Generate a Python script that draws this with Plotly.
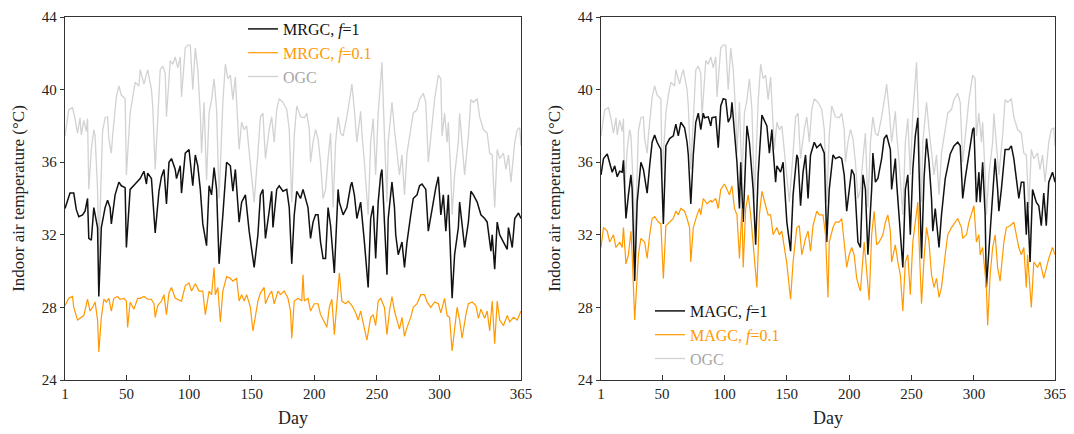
import plotly.graph_objects as go

# ---------------- data ----------------
mrgc1_days = [1,5,8,9,10,12,15,17,19,20,22,24,25,27,28,30,33,35,37,38,41,44,46,49,50,53,57,61,64,66,67,70,73,76,78,80,82,84,86,89,90,93,94,97,100,103,105,107,109,111,114,116,118,120,122,124,127,130,133,135,137,138,140,142,145,148,150,152,155,157,159,161,164,166,167,170,172,175,178,180,182,184,186,189,191,193,195,197,199,201,203,205,207,209,211,213,216,219,220,223,226,229,230,232,234,237,238,240,243,245,247,249,251,253,254,256,258,259,262,264,265,267,270,272,274,277,279,282,284,286,289,291,294,297,299,301,303,305,307,309,310,312,315,316,318,320,323,325,327,330,333,336,338,341,342,344,346,348,351,354,355,358,360,363,365]
mrgc1_temp = [33.45,34.3,34.3,33.7,33.4,33.0,33.1,33.3,34.0,31.8,31.7,33.5,33.1,32.4,28.6,32.4,33.5,33.9,33.5,32.6,34.2,34.9,34.7,34.6,31.3,34.5,34.8,35.1,35.5,34.8,35.4,35.1,32.1,34.4,35.2,35.6,33.7,36.0,36.2,35.6,35.1,35.8,34.3,36.5,36.7,34.7,36.4,35.8,34.5,32.6,31.4,34.7,34.2,35.7,34.5,30.4,33.1,36.0,35.8,34.4,35.6,34.5,32.7,33.8,34.2,32.2,31.3,30.2,32.0,34.2,34.5,31.8,33.3,34.4,32.4,34.5,34.7,34.4,34.5,33.5,30.4,33.1,34.4,34.0,34.5,34.0,33.5,31.8,32.7,33.1,33.1,31.6,30.7,30.7,33.5,32.5,29.9,34.5,33.8,33.1,33.5,34.7,34.9,34.2,32.9,33.8,32.9,31.6,29.1,32.9,33.6,30.7,33.8,35.3,35.6,32.9,29.8,32.9,34.9,33.5,32.0,30.9,31.6,30.2,31.6,33.1,34.0,34.2,34.7,34.8,34.5,32.2,33.5,34.6,35.2,33.1,34.2,32.2,34.2,30.9,28.5,30.9,32.4,33.8,32.7,31.3,32.7,34.4,34.2,33.8,33.1,32.9,32.7,31.1,32.0,30.1,32.7,32.0,31.6,31.2,32.4,31.3,32.9,33.2,32.9]

mrgc01_days = [1,4,7,8,11,13,16,19,21,23,25,27,28,30,32,34,36,38,40,43,45,48,50,51,53,56,59,61,64,67,70,72,73,75,78,80,82,84,86,89,91,94,97,100,102,105,108,111,113,116,118,120,121,123,125,127,130,133,135,138,140,142,144,146,149,151,152,155,157,160,161,164,166,168,171,173,176,179,181,182,184,187,190,191,192,195,197,200,203,205,208,210,212,214,216,218,220,222,225,227,230,233,235,237,239,242,245,247,249,251,253,256,258,260,262,264,266,268,270,272,274,277,279,282,285,288,290,293,296,299,301,304,306,308,310,312,314,316,318,321,323,326,329,331,333,336,338,340,342,344,346,348,351,354,356,359,362,365]
mrgc01_temp = [28.1,28.5,28.6,28.0,27.3,27.4,27.55,28.45,27.8,28.0,28.3,27.3,25.55,27.45,28.45,28.3,28.5,27.8,28.5,28.6,28.45,28.5,28.35,26.9,28.3,27.9,28.5,28.5,28.6,28.45,28.45,28.2,27.45,28.1,28.35,28.7,27.6,28.8,29.1,28.5,28.45,28.35,29.2,29.35,28.9,29.3,28.9,28.9,27.6,28.9,28.7,30.2,28.7,29.1,27.2,28.9,29.7,29.6,29.45,29.6,28.35,28.7,28.35,28.7,28.0,26.7,27.1,28.35,28.8,29.1,28.2,28.7,28.9,28.2,28.9,28.7,28.9,28.5,27.8,26.3,28.35,28.5,28.35,29.8,28.35,28.5,27.8,28.2,28.2,27.6,27.2,26.9,28.0,28.45,26.5,28.35,29.9,28.35,28.2,28.35,28.1,27.7,27.3,27.8,27.1,26.2,27.45,27.6,27.0,28.35,28.5,28.0,26.5,27.8,28.6,27.8,27.3,26.8,27.45,26.4,26.9,27.45,28.0,28.2,28.7,28.7,28.3,28.0,28.3,28.2,27.7,28.5,27.55,27.45,25.6,26.7,28.0,27.3,26.3,27.6,28.2,28.3,28.1,27.4,27.9,27.4,27.8,26.7,28.35,26.0,28.35,27.3,27.0,27.55,27.2,27.45,27.3,27.8]

ogc_days = [1,4,7,9,11,13,14,16,18,19,20,22,24,25,27,28,30,31,33,35,36,38,39,42,44,46,49,50,53,55,57,60,61,64,66,67,70,71,73,75,77,79,81,82,85,87,89,91,93,94,97,99,101,103,105,107,109,110,112,114,116,118,120,122,123,124,127,129,131,133,135,137,138,140,142,144,146,148,150,152,155,157,159,161,164,166,168,170,172,175,178,180,182,184,186,189,192,194,196,197,199,201,203,205,207,209,211,213,215,217,219,221,223,226,229,230,232,234,237,238,240,243,245,247,249,251,253,254,256,258,259,262,264,266,268,270,272,274,277,279,282,284,287,289,291,294,296,299,301,302,304,306,307,309,310,312,315,316,318,320,323,325,327,330,332,335,338,340,342,344,346,348,351,353,355,357,360,362,364,365]
ogc_temp = [37.45,38.9,39.0,38.4,37.6,38.45,37.5,38.3,37.7,38.4,34.5,36.7,37.8,37.45,34.5,31.0,35.5,37.7,38.45,38.5,37.3,36.5,37.45,39.6,40.2,39.7,39.5,35.3,38.7,39.7,40.4,40.2,41.1,40.3,40.9,41.1,40.0,39.1,35.6,38.7,41.1,41.3,40.9,38.5,41.6,41.4,41.8,41.2,41.8,39.6,42.3,42.45,42.45,40.0,42.3,41.1,38.7,36.5,39.3,35.0,38.7,39.45,40.6,38.9,36.5,34.0,39.3,41.4,40.6,40.8,39.45,40.7,39.3,36.7,38.2,37.8,38.0,36.7,35.3,33.8,36.5,38.5,38.7,36.2,37.8,38.5,37.1,38.9,39.5,39.3,38.9,37.8,33.8,37.45,39.1,38.5,38.45,38.7,37.8,36.0,37.1,37.8,37.3,36.0,34.0,34.5,36.2,37.6,33.5,37.1,38.5,37.6,37.45,38.5,39.8,40.3,38.9,37.1,38.8,37.6,36.0,33.1,37.1,38.4,35.3,38.7,40.5,41.5,37.45,33.8,37.1,39.3,37.8,36.5,35.3,36.4,34.2,36.5,37.8,38.7,38.9,39.45,39.8,39.3,36.0,38.0,39.45,40.8,40.6,37.45,38.7,37.1,38.2,35.3,33.1,35.3,37.1,38.7,37.1,35.3,37.45,39.45,39.3,39.5,38.5,37.8,37.6,36.5,36.4,33.5,36.7,36.2,36.5,35.6,36.4,34.9,37.1,37.8,37.9,36.9]

magc1_days = [1,3,6,8,10,12,14,16,18,19,21,23,25,26,28,30,33,35,38,40,42,44,46,49,51,53,56,59,61,63,65,68,70,71,73,75,77,79,81,83,84,87,89,90,93,95,97,99,101,103,105,106,108,110,112,113,115,117,118,120,123,125,127,130,132,134,136,138,139,141,142,145,147,149,150,153,155,158,159,161,163,165,167,169,172,174,177,180,182,184,187,189,192,194,196,198,200,202,204,205,207,209,211,213,215,218,219,221,223,226,228,230,233,234,237,238,240,243,245,247,249,251,253,255,256,258,260,262,264,266,267,269,272,274,277,279,281,284,287,289,291,293,296,299,300,302,304,305,307,309,310,313,315,317,319,320,322,325,328,330,332,334,336,338,340,342,343,345,347,350,352,354,356,358,360,363,365]
magc1_temp = [35.3,36.2,36.45,36.0,35.45,35.8,35.2,35.5,35.45,36.1,32.9,34.2,35.3,34.5,29.45,33.8,36.0,35.6,34.3,35.8,37.1,37.5,37.1,36.7,32.6,36.9,37.3,37.45,38.1,37.45,38.2,37.9,37.1,36.4,33.7,36.4,38.2,38.7,37.8,38.7,38.45,38.5,38.0,38.45,38.5,36.8,39.1,39.5,39.45,38.2,38.5,39.3,37.6,36.0,33.45,36.0,32.7,36.9,38.0,37.1,34.5,31.45,35.3,38.6,38.3,38.0,36.5,37.8,36.7,34.9,35.8,35.45,36.0,33.8,32.7,31.1,34.2,36.4,36.2,33.6,35.45,36.4,34.0,36.4,37.1,36.8,37.0,36.5,31.6,34.5,36.4,36.2,36.3,36.2,35.3,33.3,34.5,35.6,35.3,33.8,31.6,31.3,35.3,34.5,30.9,34.5,36.5,34.9,35.1,36.2,37.3,37.5,36.7,34.5,36.2,34.9,33.1,30.2,34.5,35.3,32.0,35.6,37.45,38.45,35.6,30.7,35.1,37.3,36.0,34.0,32.2,33.45,31.3,33.1,35.1,35.8,36.45,36.9,37.1,36.9,34.0,35.1,36.5,37.8,37.9,33.8,35.45,33.8,36.0,33.1,29.1,32.4,34.5,36.2,34.5,33.3,34.5,36.7,36.7,36.9,36.2,35.1,34.0,34.9,34.9,32.0,33.8,30.5,34.5,33.8,33.6,32.5,34.3,32.5,34.9,35.45,34.9]

magc01_days = [1,3,6,8,11,13,16,18,19,21,23,25,26,28,31,33,36,38,40,42,44,47,49,51,53,56,59,61,63,65,68,70,72,73,75,78,80,81,83,86,89,90,93,95,97,100,102,104,106,108,110,112,114,115,117,119,121,123,126,128,130,133,135,137,139,142,144,146,148,150,153,155,158,160,162,165,167,169,171,174,176,179,181,183,184,187,189,192,194,196,198,200,202,204,206,208,209,212,213,216,218,220,222,224,227,229,231,233,234,237,239,241,243,245,247,249,251,253,255,256,258,260,262,264,266,268,270,272,274,277,279,282,285,287,290,291,294,296,300,302,304,305,307,310,311,313,315,317,319,321,324,326,329,332,334,336,338,340,342,343,346,348,351,353,356,358,360,363,365]
magc01_temp = [31.3,32.4,32.2,31.6,32.0,31.3,31.6,31.3,32.4,30.4,30.9,32.2,30.9,27.3,30.9,31.8,31.6,30.7,32.0,32.9,33.0,32.7,32.6,29.6,32.5,32.7,32.9,33.3,33.1,33.45,33.3,32.9,32.4,30.5,32.4,33.1,33.45,33.1,34.0,33.7,33.9,33.8,34.0,33.45,34.5,34.8,34.5,34.2,34.7,33.45,33.1,30.7,33.45,30.2,33.45,34.2,33.1,31.6,29.1,33.1,34.4,33.6,33.1,33.1,32.0,32.4,32.0,32.2,31.3,30.4,28.45,30.5,32.4,32.5,30.9,31.8,32.2,31.1,32.5,33.3,33.1,33.1,32.0,28.55,31.6,32.4,32.7,32.7,32.9,31.6,30.2,30.9,31.3,30.9,29.6,29.1,28.9,31.6,30.9,28.4,32.0,33.3,31.45,31.6,32.0,32.7,33.1,32.2,30.5,31.45,30.5,29.8,27.8,30.5,30.9,28.7,31.6,32.7,33.8,31.6,28.2,30.7,32.4,31.6,29.8,29.1,29.6,28.55,29.1,30.9,32.0,32.4,32.7,32.9,32.4,31.8,32.0,32.7,33.6,31.6,32.0,30.9,31.3,29.1,27.0,29.8,31.3,32.0,30.2,29.45,31.6,32.4,32.5,32.7,32.0,31.3,30.9,31.3,29.1,30.9,28.0,30.5,30.2,30.5,29.6,30.2,30.7,31.3,30.9]

x_tickvals = [1, 50, 100, 150, 200, 250, 300, 365]
y_tickvals = [24, 28, 32, 36, 40, 44]

# ---------------- styling ----------------
FONT = "Liberation Serif, Times New Roman, serif"
BLACK = "#111111"
ORANGE = "#FF9900"
GRAY_LINE = "#D2D2D2"
GRAY_TEXT = "#A6A6A6"

# the page body adds an 8 px margin, so the figure is sized and laid out
# in "screen pixels minus 8"
OFF = 8
W, H = 1074 - OFF, 434 - OFF

def px(x):
    return (x - OFF) / W

def py(y):
    return 1 - (y - OFF) / H

fig = go.Figure()

def add(days, temp, name, color, width, xa, ya, legend, rank):
    fig.add_trace(go.Scatter(x=days, y=temp, mode="lines", name=name,
                             line=dict(color=color, width=width),
                             xaxis=xa, yaxis=ya, legend=legend, legendrank=rank))

# left panel (OGC drawn underneath)
add(ogc_days, ogc_temp, f"<span style='color:{GRAY_TEXT}'>OGC</span>", GRAY_LINE, 1.3, "x", "y", "legend", 3)
add(mrgc1_days, mrgc1_temp, "MRGC, <i>f</i>=1", BLACK, 1.5, "x", "y", "legend", 1)
add(mrgc01_days, mrgc01_temp, f"<span style='color:{ORANGE}'>MRGC, <i>f</i>=0.1</span>", ORANGE, 1.2, "x", "y", "legend", 2)
# right panel
add(ogc_days, ogc_temp, f"<span style='color:{GRAY_TEXT}'>OGC</span>", GRAY_LINE, 1.3, "x2", "y2", "legend2", 3)
add(magc1_days, magc1_temp, "MAGC, <i>f</i>=1", BLACK, 1.5, "x2", "y2", "legend2", 1)
add(magc01_days, magc01_temp, f"<span style='color:{ORANGE}'>MAGC, <i>f</i>=0.1</span>", ORANGE, 1.2, "x2", "y2", "legend2", 2)

ydom = [py(380), py(17)]

xaxis_common = dict(range=[1, 365], tickvals=x_tickvals, ticks="inside", ticklen=5,
                    tickcolor="#333", showline=True, linecolor="#333", linewidth=1.3,
                    mirror=True, showgrid=False, zeroline=False, ticklabeloverflow="allow",
                    tickfont=dict(family=FONT, size=15, color="#222"),
                    title=dict(text="Day", font=dict(family=FONT, size=18, color="#222"), standoff=10))
yaxis_common = dict(range=[24, 44], tickvals=y_tickvals, ticks="outside", ticklen=4,
                    tickcolor="#333", showline=True, linecolor="#333", linewidth=1.3,
                    mirror=True, showgrid=False, zeroline=False, ticklabeloverflow="allow",
                    tickfont=dict(family=FONT, size=15, color="#222"),
                    title=dict(text="Indoor air temperature (°C)", font=dict(family=FONT, size=17, color="#222"), standoff=12))

legend_common = dict(font=dict(family=FONT, size=16, color=BLACK), bgcolor="rgba(0,0,0,0)",
                     traceorder="normal", xanchor="left", yanchor="top", tracegroupgap=0)

fig.update_layout(
    width=W, height=H, margin=dict(l=0, r=0, t=0, b=0, autoexpand=False),
    paper_bgcolor="white", plot_bgcolor="white",
    xaxis=dict(domain=[px(65), px(521)], anchor="y", **xaxis_common),
    yaxis=dict(domain=ydom, anchor="x", **yaxis_common),
    xaxis2=dict(domain=[px(601), px(1055)], anchor="y2", **xaxis_common),
    yaxis2=dict(domain=ydom, anchor="x2", **yaxis_common),
    legend=dict(x=px(243), y=py(12), **legend_common),
    legend2=dict(x=px(650), y=py(294), **legend_common),
    showlegend=True,
)

fig.write_html("out.html")
